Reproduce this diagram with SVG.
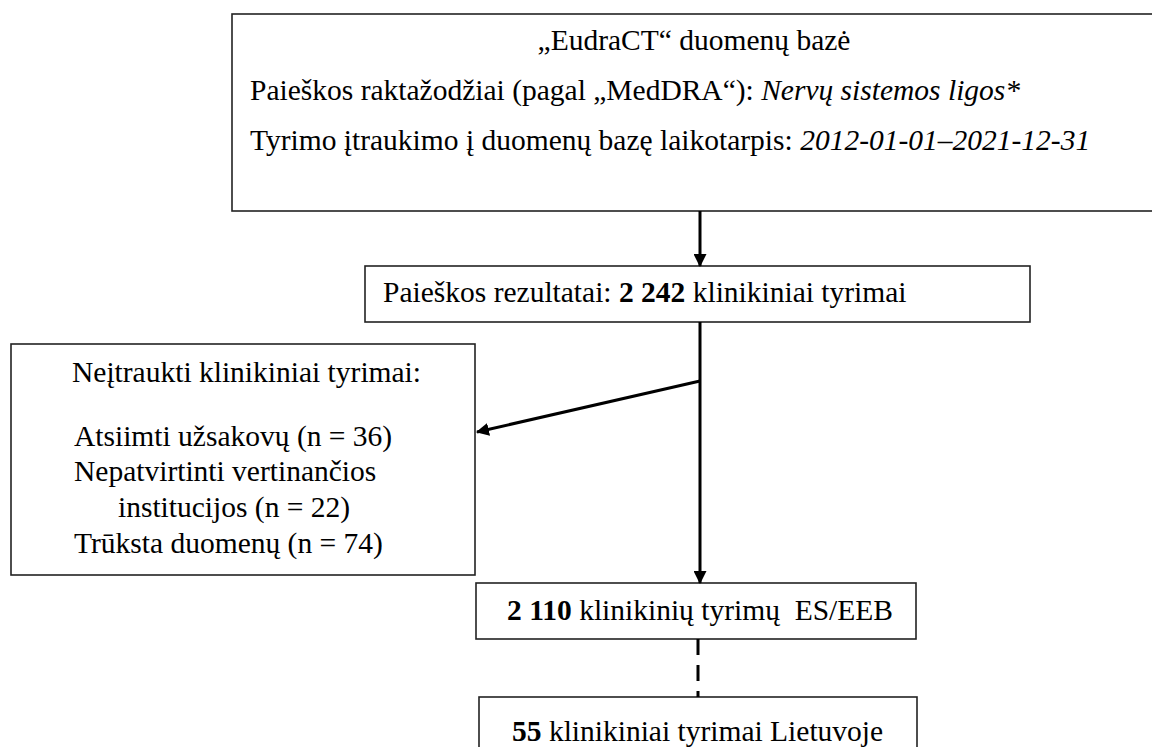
<svg xmlns="http://www.w3.org/2000/svg" width="1152" height="747" viewBox="0 0 1152 747">
<defs>
<style>
.box{fill:#fff;stroke:#222;stroke-width:1.6}
.t{font-family:"Liberation Serif","Times New Roman",serif;font-size:29.5px;fill:#000}
.b{font-weight:bold}
.i{font-style:italic}
.c{stroke:#000;stroke-width:3;fill:none}
</style>
<marker id="ah" viewBox="0 0 12 12" refX="11" refY="6" markerWidth="13" markerHeight="13" markerUnits="userSpaceOnUse" orient="auto">
<path d="M0,0 L12,6 L0,12 Z" fill="#000"/>
</marker>
</defs>
<rect width="1152" height="747" fill="#fff"/>
<g id="n1">
<rect class="box" x="232" y="14" width="925" height="197"/>
<text class="t" x="694" y="50" text-anchor="middle">„EudraCT“ duomenų bazė</text>
<text class="t" x="250" y="100">Paieškos raktažodžiai (pagal „MedDRA“): <tspan class="i">Nervų sistemos ligos*</tspan></text>
<text class="t" x="250" y="150">Tyrimo įtraukimo į duomenų bazę laikotarpis: <tspan class="i">2012-01-01–2021-12-31</tspan></text>
</g>
<g id="n2">
<rect class="box" x="365" y="266" width="665" height="56"/>
<text class="t" x="383" y="302">Paieškos rezultatai: <tspan class="b">2 242</tspan> klinikiniai tyrimai</text>
</g>
<g id="n3">
<rect class="box" x="11" y="344" width="464" height="231"/>
<text class="t" x="72" y="382">Neįtraukti klinikiniai tyrimai:</text>
<text class="t" x="74" y="446">Atsiimti užsakovų (n = 36)</text>
<text class="t" x="74" y="481">Nepatvirtinti vertinančios</text>
<text class="t" x="118" y="517">institucijos (n = 22)</text>
<text class="t" x="74" y="553">Trūksta duomenų (n = 74)</text>
</g>
<g id="n4">
<rect class="box" x="476" y="583" width="440" height="56"/>
<text class="t" x="507" y="620"><tspan class="b">2 110</tspan> klinikinių tyrimų&#160; ES/EEB</text>
</g>
<g id="n5">
<rect class="box" x="479" y="697" width="438" height="60"/>
<text class="t" x="512" y="741"><tspan class="b">55</tspan> klinikiniai tyrimai Lietuvoje</text>
</g>
<g id="connectors">
<line class="c" x1="700" y1="211" x2="700" y2="266" marker-end="url(#ah)"/>
<line class="c" x1="700" y1="322" x2="700" y2="583" marker-end="url(#ah)"/>
<line class="c" x1="700" y1="381" x2="477" y2="432" marker-end="url(#ah)"/>
<line class="c" x1="698" y1="639" x2="698" y2="697" stroke-dasharray="16 10" stroke-width="3.5"/>
</g>
</svg>
